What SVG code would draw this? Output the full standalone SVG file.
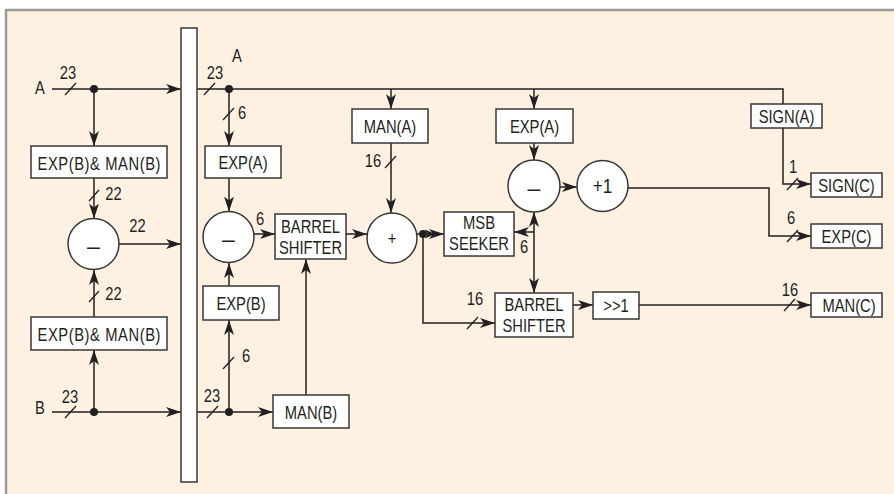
<svg xmlns="http://www.w3.org/2000/svg" width="894" height="494" viewBox="0 0 894 494">
<defs>
<style>
text{font-family:"Liberation Sans Narrow","Arial Narrow","Liberation Sans",Arial,sans-serif;font-size:18px;fill:#231f20;text-anchor:middle;transform-box:fill-box;transform-origin:center;transform:scaleX(0.82)}
text.m{font-size:23px;transform:none}
.b{fill:#fff;stroke:#3a3637;stroke-width:1.5}
.w{fill:none;stroke:#231f20;stroke-width:1.5}
.a{marker-end:url(#ah)}
.s{stroke:#231f20;stroke-width:1.3}
.d{fill:#231f20}
</style>
<marker id="ah" markerUnits="userSpaceOnUse" markerWidth="16" markerHeight="12" refX="15" refY="5" orient="auto-start-reverse" viewBox="0 0 16 10">
<path d="M0,0 L15,5 L0,10 L4,5 Z" fill="#231f20"/>
</marker>
</defs>
<rect x="0" y="0" width="894" height="494" fill="#fff"/>
<rect x="7" y="10" width="887" height="484" fill="#fef1e2"/>
<path d="M6,494 V10 H894" fill="none" stroke="#9a9a9a" stroke-width="2.5"/>

<g id="connectors">
<line class="w a" x1="52" y1="89" x2="181" y2="89"/>
<line class="w a" x1="94" y1="89" x2="94" y2="146"/>
<line class="w a" x1="94" y1="178" x2="94" y2="218.5"/>
<line class="w a" x1="119" y1="244" x2="181" y2="244"/>
<line class="w a" x1="94" y1="317" x2="94" y2="270"/>
<line class="w a" x1="94" y1="412" x2="94" y2="350"/>
<line class="w a" x1="52" y1="412" x2="181" y2="412"/>
<polyline class="w" points="197,89 783,89 783,104"/>
<line class="w a" x1="229" y1="89" x2="229" y2="146"/>
<line class="w a" x1="229" y1="178" x2="229" y2="211.5"/>
<line class="w a" x1="254" y1="234" x2="275" y2="234"/>
<line class="w a" x1="346" y1="234" x2="367" y2="234"/>
<line class="w a" x1="391" y1="89" x2="391" y2="109"/>
<line class="w a" x1="391" y1="143" x2="391" y2="213"/>
<line class="w a" x1="417" y1="234" x2="444" y2="234"/>
<path d="M425,229.5 L435,234 L425,238.5 L428,234 Z" fill="#231f20"/>
<polyline class="w a" points="423,234 423,323 495,323"/>
<line class="w a" x1="534" y1="89" x2="534" y2="109"/>
<line class="w a" x1="534" y1="143" x2="534" y2="160"/>
<line class="w a" x1="534" y1="225" x2="534" y2="212"/>
<line class="w a" x1="534" y1="225" x2="534" y2="293"/>
<line class="w a" x1="534" y1="232" x2="514" y2="232"/>
<line class="w a" x1="560" y1="187" x2="577" y2="187"/>
<polyline class="w a" points="628,188 769,188 769,236 811,236"/>
<polyline class="w a" points="783,128 783,184 811,184"/>
<line class="w a" x1="573" y1="305" x2="593" y2="305"/>
<line class="w a" x1="639" y1="305" x2="811" y2="305"/>
<line class="w a" x1="197" y1="412" x2="273" y2="412"/>
<line class="w a" x1="229" y1="412" x2="229" y2="320"/>
<line class="w a" x1="229" y1="286" x2="229" y2="263"/>
<line class="w a" x1="306" y1="395" x2="306" y2="259"/>
<circle class="d" cx="94" cy="89" r="4"/>
<circle class="d" cx="94" cy="412" r="4"/>
<circle class="d" cx="229" cy="89" r="4"/>
<circle class="d" cx="229" cy="412" r="4"/>
<circle class="d" cx="423" cy="234" r="4"/>
<g class="s">
<line x1="65" y1="95" x2="76" y2="83"/>
<line x1="89" y1="201" x2="99" y2="190"/>
<line x1="89" y1="302" x2="99" y2="291"/>
<line x1="65" y1="418" x2="76" y2="406"/>
<line x1="204" y1="95" x2="215" y2="83"/>
<line x1="223" y1="120" x2="234" y2="108"/>
<line x1="385" y1="168" x2="396" y2="156"/>
<line x1="467" y1="329" x2="478" y2="317"/>
<line x1="787" y1="190" x2="798" y2="178"/>
<line x1="787" y1="242" x2="798" y2="230"/>
<line x1="784" y1="311" x2="795" y2="299"/>
<line x1="207" y1="418" x2="218" y2="406"/>
<line x1="223" y1="369" x2="234" y2="357"/>
</g>
<g>
<text x="40" y="94">A</text>
<text x="68" y="79">23</text>
<text x="40" y="414">B</text>
<text x="70" y="403">23</text>
<text x="113.5" y="200">22</text>
<text x="137.5" y="232">22</text>
<text x="113.5" y="300">22</text>
<text x="215" y="79">23</text>
<text x="237" y="62">A</text>
<text x="242" y="119">6</text>
<text x="260" y="225">6</text>
<text x="373" y="167">16</text>
<text x="524" y="253">6</text>
<text x="475" y="305">16</text>
<text x="793" y="173">1</text>
<text x="791" y="224">6</text>
<text x="790" y="296">16</text>
<text x="246" y="362">6</text>
<text x="212" y="402">23</text>
</g>
</g>

<g id="bar"><rect class="b" x="181" y="28" width="16" height="454"/></g>
<g id="expman-a"><rect class="b" x="31" y="146" width="136" height="32"/><text x="99" y="170" textLength="150" lengthAdjust="spacing">EXP(B)&amp; MAN(B)</text></g>
<g id="sub1"><circle class="b" cx="93.5" cy="244" r="25.5"/><text class="m" x="93.5" y="254">–</text></g>
<g id="expman-b"><rect class="b" x="31" y="317" width="136" height="33"/><text x="99" y="341" textLength="150" lengthAdjust="spacing">EXP(B)&amp; MAN(B)</text></g>
<g id="expa1"><rect class="b" x="205" y="146" width="76" height="32"/><text x="243" y="169">EXP(A)</text></g>
<g id="sub2"><circle class="b" cx="228.5" cy="237" r="25.5"/><text class="m" x="228.5" y="247">–</text></g>
<g id="barrel1"><rect class="b" x="275" y="214" width="71" height="45"/><text x="310.5" y="233">BARREL</text><text x="310.5" y="254">SHIFTER</text></g>
<g id="mana"><rect class="b" x="352" y="109" width="76" height="34"/><text x="390" y="133">MAN(A)</text></g>
<g id="add"><circle class="b" cx="392" cy="238" r="25"/><text x="392" y="245">+</text></g>
<g id="msb"><rect class="b" x="444" y="212" width="70" height="44"/><text x="479" y="229">MSB</text><text x="479" y="250">SEEKER</text></g>
<g id="barrel2"><rect class="b" x="495" y="293" width="78" height="44"/><text x="534" y="311">BARREL</text><text x="534" y="332">SHIFTER</text></g>
<g id="expa2"><rect class="b" x="496" y="109" width="77" height="34"/><text x="534.5" y="133">EXP(A)</text></g>
<g id="sub3"><circle class="b" cx="534" cy="186" r="26"/><text class="m" x="534" y="196">–</text></g>
<g id="inc"><circle class="b" cx="602.5" cy="186" r="25.5"/><text x="602.5" y="193" style="font-size:21px">+1</text></g>
<g id="signa"><rect class="b" x="751" y="104" width="71" height="24"/><text x="786.5" y="123">SIGN(A)</text></g>
<g id="signc"><rect class="b" x="811" y="173" width="71" height="24"/><text x="846.5" y="192">SIGN(C)</text></g>
<g id="expc"><rect class="b" x="811" y="224" width="71" height="24"/><text x="846.5" y="243">EXP(C)</text></g>
<g id="manc"><rect class="b" x="811" y="293" width="71" height="24"/><text x="849" y="312">MAN(C)</text></g>
<g id="shr"><rect class="b" x="593" y="292" width="46" height="27"/><text x="616" y="312">&gt;&gt;1</text></g>
<g id="manb"><rect class="b" x="273" y="395" width="76" height="33"/><text x="311" y="419">MAN(B)</text></g>
<g id="expb"><rect class="b" x="203" y="286" width="76" height="34"/><text x="241" y="310">EXP(B)</text></g>
</svg>
